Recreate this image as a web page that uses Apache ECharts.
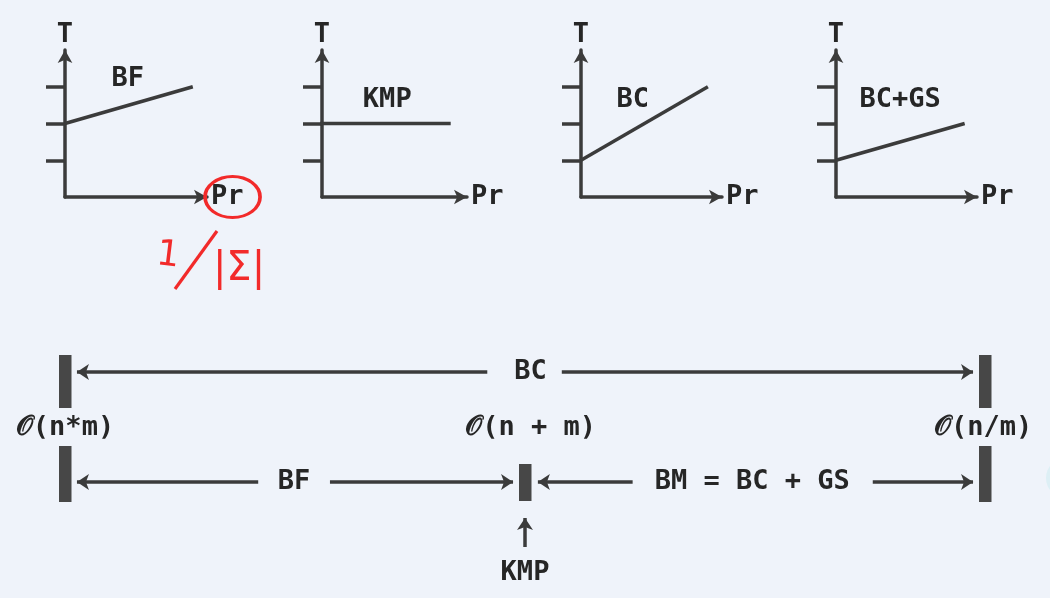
<!DOCTYPE html>
<html><head><meta charset="utf-8">
<script src="https://cdn.jsdelivr.net/npm/echarts@6/dist/echarts.min.js"></script>
<style>html,body{margin:0;padding:0;background:#eff3fa;}#c{width:1050px;height:598px;}</style>
</head><body><div id="c"></div>
<script>
// ---- data ----
const panelNames = ['BF', 'KMP', 'BC', 'BC+GS'];
const bfLine   = [[0, 2], [3.6, 3]];
const kmpLine  = [[-0.5, 2], [3.55, 2]];
const bcLine   = [[0, 1], [3.6, 3]];
const bcgsLine = [[0, 1], [3.65, 2]];
const panelLines = [bfLine, kmpLine, bcLine, bcgsLine];
const panelLabelPos = [[1.77, 3.2], [1.8, 2.65], [1.47, 2.65], [1.82, 2.65]];
const yTickValues = [1, 2, 3];
const xAxisName = 'Pr';
const yAxisName = 'T';
const circledPoint = [[4.72, 0]];

const barSegments = [[0, 3, 56], [0, 94, 150], [100, 3, 56], [100, 94, 150], [50, 112, 149]];
const arrowSegments = [
  [[45.9, 20], [1.3, 20]],
  [[54.0, 20], [98.7, 20]],
  [[21.0, 130], [1.3, 130]],
  [[28.8, 130], [48.7, 130]],
  [[61.7, 130], [51.4, 130]],
  [[87.8, 130], [98.7, 130]],
  [[50, 195], [50, 166]]
];
const bottomLabelNames = ['BC', '𝒪(n*m)', '𝒪(n + m)', '𝒪(n/m)', 'BF', 'BM = BC + GS', 'KMP'];
const bottomLabelPos = [[50.6, 20], [0, 76], [50.6, 76], [99.8, 76], [24.9, 130], [74.7, 130], [50, 221]];

// ---- layout / style ----
const INK = '#3b3b3b';
const TXT = '#262626';
const MONO = 'DejaVu Sans Mono';
const panelGrids = [
  { left: 65, width: 142 }, { left: 322, width: 145 }, { left: 581, width: 141 }, { left: 836, width: 141 }
];
const labelStyle = { show: true, position: 'inside', formatter: '{b}', fontFamily: MONO, fontSize: 27, fontWeight: 'bold', color: TXT, opacity: 1 };

const grid = [], xAxis = [], yAxis = [], series = [];
panelGrids.forEach((g, i) => {
  grid.push({ left: g.left, width: g.width, top: 50, height: 147 });
  xAxis.push({
    type: 'value', gridIndex: i, min: 0, max: 4,
    name: xAxisName, nameLocation: 'end', nameGap: 4,
    nameTextStyle: { fontFamily: MONO, fontSize: 27, fontWeight: 'bold', color: TXT },
    axisLine: { show: true, onZero: false, symbol: ['none', 'arrow'], symbolSize: [11, 13], lineStyle: { color: INK, width: 3.5 } },
    axisTick: { show: false }, axisLabel: { show: false }, splitLine: { show: false }
  });
  yAxis.push({
    type: 'value', gridIndex: i, min: 0, max: 4,
    name: yAxisName, nameLocation: 'end', nameGap: 2,
    nameTextStyle: { fontFamily: MONO, fontSize: 27, fontWeight: 'bold', color: TXT },
    axisLine: { show: true, onZero: false, symbol: ['none', 'arrow'], symbolSize: [11, 13], lineStyle: { color: INK, width: 3.5 } },
    axisTick: { show: true, customValues: yTickValues, length: 19, lineStyle: { color: INK, width: 3.5 } },
    axisLabel: { show: false }, splitLine: { show: false }
  });
  series.push({
    type: 'line', xAxisIndex: i, yAxisIndex: i, data: panelLines[i], clip: false,
    symbol: 'none', lineStyle: { color: INK, width: 3.5 }, silent: true
  });
  series.push({
    type: 'scatter', xAxisIndex: i, yAxisIndex: i, symbolSize: 0, clip: false,
    itemStyle: { opacity: 1 },
    data: [{ name: panelNames[i], value: panelLabelPos[i] }],
    label: labelStyle
  });
});
// red circle around Pr in BF panel
series.push({
  type: 'scatter', xAxisIndex: 0, yAxisIndex: 0, clip: false, data: circledPoint,
  symbol: 'circle', symbolSize: [55, 41], z: 5,
  itemStyle: { color: 'rgba(0,0,0,0)', borderColor: '#f22a2a', borderWidth: 3.2, opacity: 1 }
});

// bottom diagram
grid.push({ left: 65, width: 920, top: 352, height: 230 });
xAxis.push({ type: 'value', gridIndex: 4, min: 0, max: 100, show: false });
yAxis.push({ type: 'value', gridIndex: 4, min: 0, max: 230, inverse: true, show: false });
series.push({
  type: 'custom', xAxisIndex: 4, yAxisIndex: 4, data: barSegments, clip: false,
  renderItem: function (params, api) {
    const a = api.coord([api.value(0), api.value(1)]);
    const b = api.coord([api.value(0), api.value(2)]);
    return { type: 'rect', shape: { x: a[0] - 6, y: a[1], width: 12.5, height: b[1] - a[1] }, style: { fill: '#474747' } };
  }
});
series.push({
  type: 'lines', coordinateSystem: 'cartesian2d', xAxisIndex: 4, yAxisIndex: 4,
  data: arrowSegments.map(c => ({ coords: c })),
  symbol: ['none', 'arrow'], symbolSize: 12,
  lineStyle: { color: INK, width: 3.5, opacity: 1, curveness: 0 }, silent: true
});
series.push({
  type: 'scatter', xAxisIndex: 4, yAxisIndex: 4, symbolSize: 0, clip: false,
  itemStyle: { opacity: 1 },
  data: bottomLabelNames.map((n, i) => ({ name: n, value: bottomLabelPos[i] })),
  label: labelStyle
});

const chart = echarts.init(document.getElementById('c'), null, { renderer: 'canvas' });
chart.setOption({
  backgroundColor: '#eff3fa',
  animation: false,
  grid, xAxis, yAxis, series,
  graphic: [
    { type: 'line', shape: { x1: 217, y1: 231, x2: 175, y2: 289 }, style: { stroke: '#f22a2a', lineWidth: 3.2 } },
    { type: 'text', x: 168, y: 256, rotation: -0.12, style: { text: '1', fill: '#f22a2a', font: '36px "DejaVu Sans"', textAlign: 'center', textVerticalAlign: 'middle' } },
    { type: 'text', x: 239, y: 270, style: { text: '|Σ|', fill: '#f22a2a', font: '40px "DejaVu Sans"', textAlign: 'center', textVerticalAlign: 'middle' } },
    { type: 'circle', shape: { cx: 1066, cy: 478, r: 20 }, style: { fill: '#ddeff5' } }
  ]
});
</script></body></html>
